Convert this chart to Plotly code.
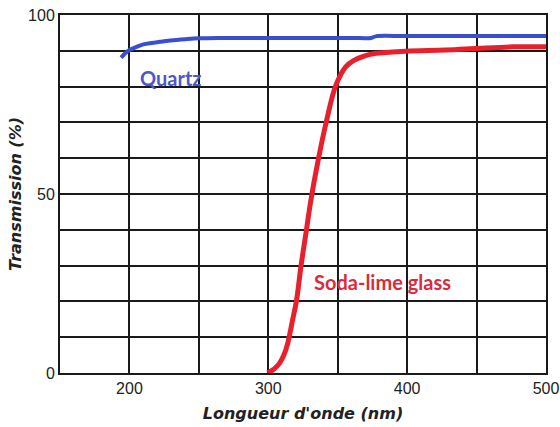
import plotly.graph_objects as go

# Quartz transmission curve
quartz_nm = [194, 197, 200, 205, 210, 216, 222, 228, 234, 242, 250, 265, 280, 300, 330, 360, 374, 378, 400, 450, 500]
quartz_T = [88.1, 89.3, 90.2, 91.1, 91.8, 92.2, 92.5, 92.8, 93.0, 93.3, 93.5, 93.6, 93.6, 93.6, 93.6, 93.6, 93.6, 94.1, 94.1, 94.1, 94.1]

# Soda-lime glass transmission curve
soda_nm = [299.5, 303, 305.5, 308, 311, 314, 317.5, 320.4, 323.5, 327.1, 330.7, 335.5, 341.5, 348.7, 355.9, 362, 367.9, 377.5, 399, 428, 452, 476, 500]
soda_T = [0, 0.8, 1.6, 2.7, 4.8, 8.3, 14.8, 20.4, 29.7, 39.0, 48.3, 58.6, 69.7, 80.4, 85.6, 87.4, 88.4, 89.3, 89.9, 90.2, 90.7, 91.1, 91.1]

x_grid = [150, 200, 250, 300, 350, 400, 450, 500]
x_labels = ["", "200", "", "300", "", "400", "", "500"]
y_grid = [0, 10, 20, 30, 40, 50, 60, 70, 80, 90, 100]
y_labels = ["0", "", "", "", "", "50", "", "", "", "", "100"]

fig = go.Figure()
fig.add_trace(go.Scatter(x=quartz_nm, y=quartz_T, mode="lines",
                         line=dict(color="#3a4fd0", width=4, shape="spline"),
                         name="Quartz", showlegend=False))
fig.add_trace(go.Scatter(x=soda_nm, y=soda_T, mode="lines",
                         line=dict(color="#e8202e", width=5, shape="spline"),
                         name="Soda-lime glass", showlegend=False))

fig.add_annotation(x=230, y=82.4, text="<b>Quartz</b>", showarrow=False,
                   font=dict(family="Lato, Open Sans, sans-serif", size=20, color="#4a58c8"))
fig.add_annotation(x=382, y=25.3, text="<b>Soda-lime glass</b>", showarrow=False,
                   font=dict(family="Lato, Open Sans, sans-serif", size=20, color="#dc2a3c"))

tick_font = dict(family="Liberation Sans, Arial, sans-serif", size=16, color="#222")
title_font = dict(family="DejaVu Sans, sans-serif", size=16, color="#222")

fig.update_layout(
    width=560, height=427,
    margin=dict(l=60, r=14, t=15, b=54),
    paper_bgcolor="white", plot_bgcolor="white",
    xaxis=dict(range=[150, 500], tickmode="array", tickvals=x_grid, ticktext=x_labels,
               showgrid=True, gridcolor="#1a1a1a", gridwidth=1.5,
               showline=True, linecolor="#1a1a1a", linewidth=2, mirror=True,
               zeroline=False, ticks="", tickfont=tick_font, automargin=False,
               ticklabeloverflow="allow",
               title=dict(text="<b><i>Longueur d'onde (nm)</i></b>", font=title_font, standoff=12)),
    yaxis=dict(range=[0, 100], tickmode="array", tickvals=y_grid, ticktext=y_labels,
               showgrid=True, gridcolor="#1a1a1a", gridwidth=2.2,
               showline=True, linecolor="#1a1a1a", linewidth=2, mirror=True,
               zeroline=False, ticks="", tickfont=tick_font, automargin=False,
               ticklabeloverflow="allow",
               title=dict(text="<b><i>Transmission (%)</i></b>", font=title_font, standoff=2)),
)

# remove the default page margin so the 560x427 figure fills the window exactly
fig.write_html("out.html",
               config={"displayModeBar": False},
               post_script="document.body.style.margin='0';document.body.style.overflow='hidden';")
